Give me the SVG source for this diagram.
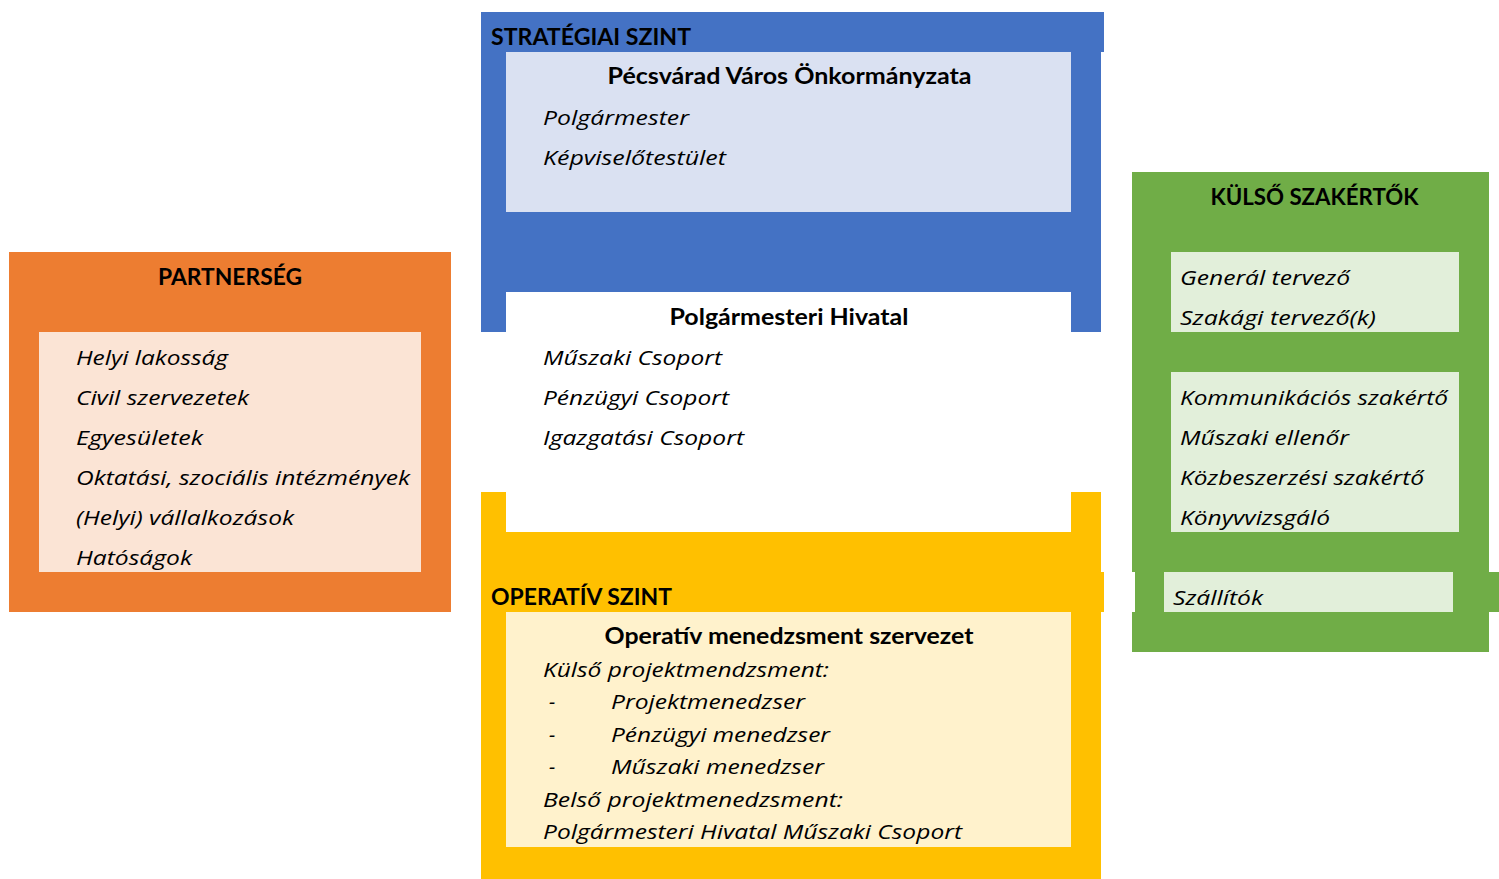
<svg xmlns="http://www.w3.org/2000/svg" width="1499" height="879" viewBox="0 0 1499 879">
<style>
text{fill:#000}
.h{font-family:Lato,"Liberation Sans",sans-serif;font-weight:bold;font-size:22px}
.i{font-family:"Open Sans","Liberation Sans",sans-serif;font-style:italic;font-size:20px}
.c{text-anchor:middle}
</style>
<rect width="1499" height="879" fill="#fff"/>
<g id="strategic">
<rect x="481" y="12" width="623" height="40" fill="#4472C4"/>
<rect x="481" y="52" width="620" height="240" fill="#4472C4"/>
<rect x="481" y="292" width="25" height="40" fill="#4472C4"/>
<rect x="1071" y="292" width="30" height="40" fill="#4472C4"/>
<rect x="506" y="52" width="565" height="160" fill="#DAE1F2"/>
<text class="h" x="491" y="45" textLength="200" lengthAdjust="spacingAndGlyphs">STRATÉGIAI SZINT</text>
<text class="h c" x="789.5" y="84" textLength="364" lengthAdjust="spacingAndGlyphs">Pécsvárad Város Önkormányzata</text>
<text class="i" x="543" y="125" textLength="146" lengthAdjust="spacingAndGlyphs">Polgármester</text>
<text class="i" x="543" y="165" textLength="183" lengthAdjust="spacingAndGlyphs">Képviselőtestület</text>
</g>
<g id="office">
<text class="h c" x="789" y="325" textLength="239" lengthAdjust="spacingAndGlyphs">Polgármesteri Hivatal</text>
<text class="i" x="543" y="365" textLength="179" lengthAdjust="spacingAndGlyphs">Műszaki Csoport</text>
<text class="i" x="543" y="405" textLength="186" lengthAdjust="spacingAndGlyphs">Pénzügyi Csoport</text>
<text class="i" x="543" y="445" textLength="201" lengthAdjust="spacingAndGlyphs">Igazgatási Csoport</text>
</g>
<g id="operative">
<rect x="481" y="492" width="25" height="40" fill="#FFC000"/>
<rect x="1071" y="492" width="30" height="40" fill="#FFC000"/>
<rect x="481" y="532" width="620" height="347" fill="#FFC000"/>
<rect x="481" y="572" width="623" height="40" fill="#FFC000"/>
<rect x="506" y="612" width="565" height="235" fill="#FFF2CC"/>
<text class="h" x="491" y="605" textLength="181" lengthAdjust="spacingAndGlyphs">OPERATÍV SZINT</text>
<text class="h c" x="789" y="644" textLength="369" lengthAdjust="spacingAndGlyphs">Operatív menedzsment szervezet</text>
<text class="i" x="543" y="677" textLength="286" lengthAdjust="spacingAndGlyphs">Külső projektmendzsment:</text>
<text class="i" x="549" y="709">-</text>
<text class="i" x="611" y="709" textLength="194" lengthAdjust="spacingAndGlyphs">Projektmenedzser</text>
<text class="i" x="549" y="742">-</text>
<text class="i" x="611" y="742" textLength="219" lengthAdjust="spacingAndGlyphs">Pénzügyi menedzser</text>
<text class="i" x="549" y="774">-</text>
<text class="i" x="611" y="774" textLength="213" lengthAdjust="spacingAndGlyphs">Műszaki menedzser</text>
<text class="i" x="543" y="807" textLength="300" lengthAdjust="spacingAndGlyphs">Belső projektmenedzsment:</text>
<text class="i" x="543" y="839" textLength="419" lengthAdjust="spacingAndGlyphs">Polgármesteri Hivatal Műszaki Csoport</text>
</g>
<g id="partnership">
<rect x="9" y="252" width="442" height="360" fill="#ED7D31"/>
<rect x="39" y="332" width="382" height="240" fill="#FBE4D5"/>
<text class="h c" x="230" y="285" textLength="144" lengthAdjust="spacingAndGlyphs">PARTNERSÉG</text>
<text class="i" x="76" y="365" textLength="152" lengthAdjust="spacingAndGlyphs">Helyi lakosság</text>
<text class="i" x="76" y="405" textLength="173" lengthAdjust="spacingAndGlyphs">Civil szervezetek</text>
<text class="i" x="76" y="445" textLength="127" lengthAdjust="spacingAndGlyphs">Egyesületek</text>
<text class="i" x="76" y="485" textLength="334" lengthAdjust="spacingAndGlyphs">Oktatási, szociális intézmények</text>
<text class="i" x="76" y="525" textLength="218" lengthAdjust="spacingAndGlyphs">(Helyi) vállalkozások</text>
<text class="i" x="76" y="565" textLength="116" lengthAdjust="spacingAndGlyphs">Hatóságok</text>
</g>
<g id="experts">
<rect x="1132" y="172" width="357" height="480" fill="#70AD47"/>
<rect x="1132" y="572" width="367" height="40" fill="#70AD47"/>
<rect x="1132" y="572" width="3" height="40" fill="#fff"/>
<rect x="1171" y="252" width="288" height="80" fill="#E2EFDA"/>
<rect x="1171" y="372" width="288" height="160" fill="#E2EFDA"/>
<rect x="1164" y="572" width="289" height="40" fill="#E2EFDA"/>
<text class="h c" x="1314.5" y="205" textLength="208" lengthAdjust="spacingAndGlyphs">KÜLSŐ SZAKÉRTŐK</text>
<text class="i" x="1180" y="285" textLength="170" lengthAdjust="spacingAndGlyphs">Generál tervező</text>
<text class="i" x="1180" y="325" textLength="196" lengthAdjust="spacingAndGlyphs">Szakági tervező(k)</text>
<text class="i" x="1180" y="405" textLength="268" lengthAdjust="spacingAndGlyphs">Kommunikációs szakértő</text>
<text class="i" x="1180" y="445" textLength="169" lengthAdjust="spacingAndGlyphs">Műszaki ellenőr</text>
<text class="i" x="1180" y="485" textLength="244" lengthAdjust="spacingAndGlyphs">Közbeszerzési szakértő</text>
<text class="i" x="1180" y="525" textLength="150" lengthAdjust="spacingAndGlyphs">Könyvvizsgáló</text>
<text class="i" x="1173" y="605" textLength="90" lengthAdjust="spacingAndGlyphs">Szállítók</text>
</g>
<g id="connectors"/>
</svg>
